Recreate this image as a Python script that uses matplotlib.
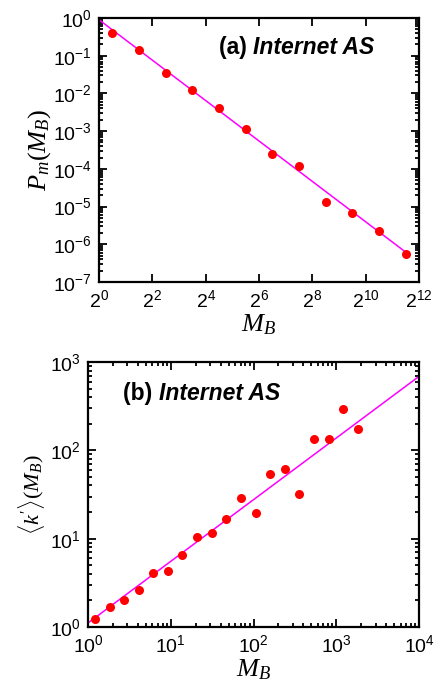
import matplotlib
matplotlib.use('Agg')
import matplotlib.pyplot as plt
import numpy as np
from matplotlib.ticker import FixedLocator, FixedFormatter, LogLocator, NullFormatter

plt.rcParams['font.family'] = ['Liberation Sans', 'DejaVu Sans']
plt.rcParams['mathtext.fontset'] = 'custom'
plt.rcParams['mathtext.rm'] = 'Liberation Serif'
plt.rcParams['mathtext.it'] = 'Liberation Serif:italic'
plt.rcParams['mathtext.sf'] = 'Liberation Sans'

# panel (a): P_m(M_B) on log2 bins
a_exp = [0.5, 1.5, 2.5, 3.5, 4.5, 5.5, 6.5, 7.5, 8.5, 9.5, 10.5, 11.5]
a_pm = [0.40, 0.144, 0.0352, 0.012, 0.00423, 0.00117, 2.54e-4, 1.19e-4,
        1.35e-5, 6.58e-6, 2.23e-6, 5.47e-7]
a_fit_amp = 0.90
a_fit_exp = -1.78

# panel (b): <k'>(M_B)
b_mb = [1.215, 1.83, 2.72, 4.13, 6.16, 9.26, 13.8, 20.8, 31.2, 47.0, 70.6,
        106, 160, 238, 358, 538, 809, 1218, 1832]
b_k = [1.23, 1.67, 2.04, 2.62, 4.12, 4.27, 6.59, 10.5, 11.6, 16.7, 28.6,
       19.7, 53.5, 61.5, 32.0, 133, 134, 294, 174]
b_fit_amp = 1.11
b_fit_exp = 0.698

fig = plt.figure(figsize=(4.37, 6.86), dpi=100)
W, H = 437, 686
ax1 = fig.add_axes([99 / W, 1 - 282 / H, 320 / W, 264 / H])
ax2 = fig.add_axes([88 / W, 1 - 627 / H, 331 / W, 265 / H])

def style(ax):
    for s in ax.spines.values():
        s.set_linewidth(1.6)
    ax.tick_params(which='both', direction='in', top=True, right=True,
                   labelsize=14, width=1.3, pad=5)
    ax.tick_params(which='major', length=6)
    ax.tick_params(which='minor', length=3)

def title(ax, x, y, tag):
    t = ax.text(x, y, tag + ' ', transform=ax.transAxes, fontsize=16.5,
                fontweight='bold', ha='left', va='baseline')
    ax.annotate('Internet AS', xy=(1, 0), xycoords=t, fontsize=16.5,
                fontweight='bold', fontstyle='italic', ha='left', va='bottom')

def pow_labels(base, exps):
    return [r'$\mathsf{%d^{%d}}$' % (base, e) for e in exps]

# ---- (a)
mb_a = [2 ** e for e in a_exp]
xfit = np.array([1, 2 ** 11.5])
ax1.plot(xfit, a_fit_amp * xfit ** a_fit_exp, color='#ff00ff', lw=1.1, zorder=2)
ax1.plot(mb_a, a_pm, 'o', color='#ff0000', ms=6.5, mec='none', zorder=3)
ax1.set_xscale('log', base=2)
ax1.set_yscale('log')
ax1.set_xlim(1, 2 ** 12)
ax1.set_ylim(1e-7, 1)
xe = list(range(0, 13, 2))
ax1.xaxis.set_major_locator(FixedLocator([2.0 ** i for i in xe]))
ax1.xaxis.set_major_formatter(FixedFormatter(pow_labels(2, xe)))
ax1.xaxis.set_minor_locator(FixedLocator([]))
ye = list(range(-7, 1))
ax1.yaxis.set_major_locator(FixedLocator([10.0 ** i for i in ye]))
ax1.yaxis.set_major_formatter(FixedFormatter(pow_labels(10, ye)))
ax1.yaxis.set_minor_locator(LogLocator(base=10, subs=np.arange(2, 10), numticks=20))
ax1.yaxis.set_minor_formatter(NullFormatter())
style(ax1)
ax1.set_xlabel(r'$M_B$', fontsize=19, labelpad=1)
ax1.set_ylabel(r'$P_m(M_B)$', fontsize=19, labelpad=0)
title(ax1, 0.375, 0.865, '(a)')

# ---- (b)
xfit_b = np.array([1, 1e4])
ax2.plot(xfit_b, b_fit_amp * xfit_b ** b_fit_exp, color='#ff00ff', lw=1.1, zorder=2)
ax2.plot(b_mb, b_k, 'o', color='#ff0000', ms=6.5, mec='none', zorder=3)
ax2.set_xscale('log')
ax2.set_yscale('log')
ax2.set_xlim(1, 1e4)
ax2.set_ylim(1, 1e3)
xe_b = list(range(0, 5))
ye_b = list(range(0, 4))
ax2.xaxis.set_major_locator(FixedLocator([10.0 ** i for i in xe_b]))
ax2.xaxis.set_major_formatter(FixedFormatter(pow_labels(10, xe_b)))
ax2.yaxis.set_major_locator(FixedLocator([10.0 ** i for i in ye_b]))
ax2.yaxis.set_major_formatter(FixedFormatter(pow_labels(10, ye_b)))
for axis in (ax2.xaxis, ax2.yaxis):
    axis.set_minor_locator(LogLocator(base=10, subs=np.arange(2, 10), numticks=20))
    axis.set_minor_formatter(NullFormatter())
style(ax2)
ax2.set_xlabel(r'$M_B$', fontsize=19, labelpad=1)
ax2.set_ylabel(r"$\langle k'\rangle(M_B)$", fontsize=16, labelpad=2)
title(ax2, 0.106, 0.857, '(b)')

fig.savefig('out.png', dpi=100)
